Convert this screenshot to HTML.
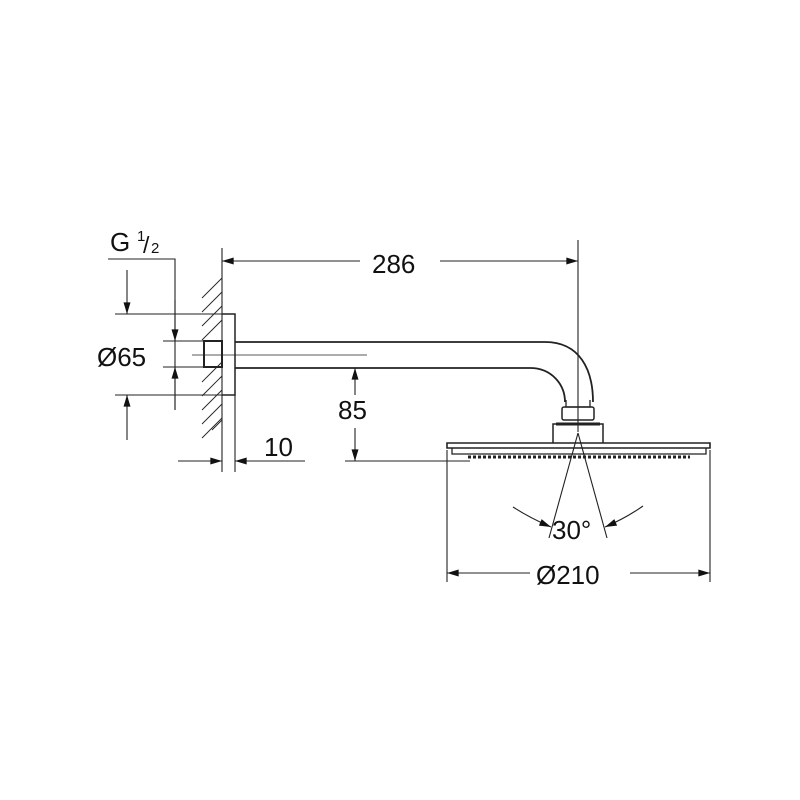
<!DOCTYPE html>
<html><head><style>body{margin:0;background:#fff}svg{display:block}text{font-family:"Liberation Sans",sans-serif;fill:#111}</style></head><body>
<svg width="800" height="800" viewBox="0 0 800 800" xmlns="http://www.w3.org/2000/svg">
<defs>
<marker id="a" viewBox="0 0 10 6" refX="10" refY="3" markerWidth="18" markerHeight="7" markerUnits="userSpaceOnUse" orient="auto"><path d="M0,0L10,3L0,6z" fill="#111"/></marker>
</defs>
<g stroke="#222" stroke-width="1.1" fill="none">
<line x1="222" y1="248" x2="222" y2="472"/>
<g stroke-width="0.9">
<line x1="202" y1="298" x2="222" y2="278"/><line x1="202" y1="312" x2="222" y2="292"/><line x1="202" y1="326" x2="222" y2="306"/><line x1="202" y1="340" x2="222" y2="320"/><line x1="202" y1="382" x2="222" y2="362"/><line x1="202" y1="396" x2="222" y2="376"/><line x1="202" y1="410" x2="222" y2="390"/><line x1="202" y1="424" x2="222" y2="404"/><line x1="202" y1="438" x2="222" y2="418"/><line x1="212" y1="430" x2="222" y2="420"/>
</g>
<path d="M222 314H235V395H222" stroke-width="1.5"/>
<line x1="235" y1="395" x2="235" y2="472"/>
<rect x="204" y="341" width="18" height="26" stroke-width="2"/>
<path d="M235 342H545C580 342 593 370 593 402" stroke-width="1.8"/>
<path d="M235 368H530C552 368 565 385 565 402" stroke-width="1.8"/>
<line x1="192" y1="355" x2="367" y2="355" stroke-width="0.8"/>
<path d="M566 400V407H590V400" stroke-width="1.3"/>
<rect x="562" y="407" width="32" height="13" rx="2" stroke-width="1.5"/>
<path d="M553 443V424H603V443" stroke-width="1.5"/>
<line x1="556" y1="424" x2="600" y2="424" stroke-width="3"/>
<path d="M447 448V443H710V448Z" stroke-width="1.6"/>
<path d="M452 448V454H706V448" stroke-width="1.3"/>
<line x1="468" y1="457" x2="690" y2="457" stroke-width="3" stroke-dasharray="3,2"/>
<line x1="578" y1="240" x2="578" y2="432"/>
<line x1="360" y1="261" x2="222" y2="261" marker-end="url(#a)"/>
<line x1="440" y1="261" x2="578" y2="261" marker-end="url(#a)"/>
<path d="M108 259H175V410"/>
<line x1="175" y1="300" x2="175" y2="341" marker-end="url(#a)"/>
<line x1="175" y1="410" x2="175" y2="367" marker-end="url(#a)"/>
<line x1="163" y1="341" x2="204" y2="341"/><line x1="163" y1="367" x2="204" y2="367"/>
<line x1="115" y1="314" x2="222" y2="314"/><line x1="115" y1="395" x2="222" y2="395"/>
<line x1="127" y1="270" x2="127" y2="314" marker-end="url(#a)"/>
<line x1="127" y1="440" x2="127" y2="395" marker-end="url(#a)"/>
<line x1="178" y1="461" x2="222" y2="461" marker-end="url(#a)"/>
<line x1="305" y1="461" x2="235" y2="461" marker-end="url(#a)"/>
<line x1="345" y1="461" x2="470" y2="461"/>
<line x1="355" y1="395" x2="355" y2="368" marker-end="url(#a)"/>
<line x1="355" y1="428" x2="355" y2="461" marker-end="url(#a)"/>
<line x1="447" y1="450" x2="447" y2="582"/><line x1="710" y1="450" x2="710" y2="582"/>
<line x1="530" y1="573" x2="447" y2="573" marker-end="url(#a)"/>
<line x1="630" y1="573" x2="710" y2="573" marker-end="url(#a)"/>
<line x1="578" y1="433" x2="549" y2="538"/><line x1="578" y1="433" x2="607" y2="538"/>
<path d="M513 507Q530 518 551 527" marker-end="url(#a)"/>
<path d="M643 506Q626 518 605 527" marker-end="url(#a)"/>
</g>
<text x="110" y="251" font-size="26">G</text>
<text x="137" y="241" font-size="15">1</text>
<text x="143" y="253" font-size="23">/</text>
<text x="151" y="253" font-size="15">2</text>
<text x="97" y="366" font-size="26">Ø65</text>
<text x="372" y="273" font-size="26">286</text>
<text x="338" y="419" font-size="26">85</text>
<text x="264" y="456" font-size="26">10</text>
<text x="552" y="539" font-size="26">30°</text>
<text x="536" y="584" font-size="26">Ø210</text>
</svg>
</body></html>
